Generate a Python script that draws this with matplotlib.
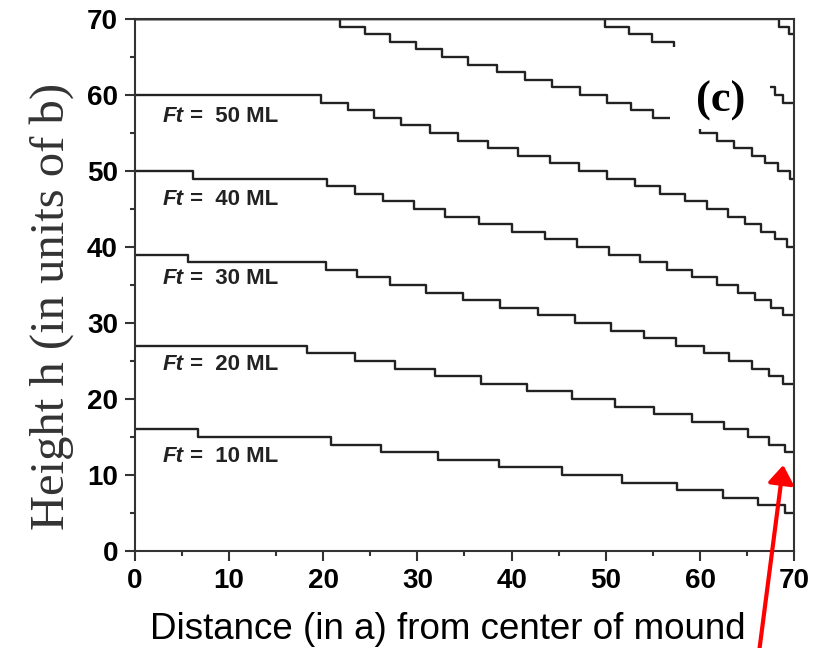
import matplotlib
matplotlib.use("Agg")
import numpy as np
import matplotlib.pyplot as plt
from matplotlib.ticker import MultipleLocator
from matplotlib.patches import Rectangle

plt.rcParams["font.family"] = ["Liberation Sans", "DejaVu Sans"]

# step profiles: x where the height drops by one layer, and the heights
a_edges = [6.75, 20.8, 26.1, 32.2, 38.7, 45.3, 51.7, 57.5, 62.4, 66.1, 69.0]
a_levels = [16, 15, 14, 13, 12, 11, 10, 9, 8, 7, 6, 5]
b_edges = [18.25, 23.4, 27.6, 31.9, 36.7, 41.6, 46.4, 51.0, 55.1, 59.1, 62.5, 65.1, 67.3, 69.0]
b_levels = [27, 26, 25, 24, 23, 22, 21, 20, 19, 18, 17, 16, 15, 14, 13]
c_edges = [5.7, 20.3, 23.6, 27.1, 30.9, 34.8, 38.8, 42.8, 46.7, 50.6, 54.0, 57.4, 60.4,
           63.1, 65.5, 67.3, 68.8]
c_levels = [39, 38, 37, 36, 35, 34, 33, 32, 31, 30, 29, 28, 27, 26, 25, 24, 23, 22]
d_edges = [6.2, 20.4, 23.4, 26.4, 29.6, 32.9, 36.5, 40.0, 43.5, 46.9, 50.3, 53.6, 56.5,
           59.1, 61.8, 64.0, 65.8, 67.5, 68.8]
d_levels = [50, 49, 48, 47, 46, 45, 44, 43, 42, 41, 40, 39, 38, 37, 36, 35, 34, 33, 32, 31]
e_edges = [19.8, 22.6, 25.4, 28.3, 31.3, 34.3, 37.5, 40.7, 44.1, 47.1, 50.1, 53.1, 55.7,
           58.4, 60.7, 63.0, 64.8, 66.5, 67.9, 69.2]
e_levels = [60, 59, 58, 57, 56, 55, 54, 53, 52, 51, 50, 49, 48, 47, 46, 45, 44, 43, 42, 41, 40]
f_edges = [21.8, 24.4, 27.1, 29.9, 32.6, 35.4, 38.5, 41.4, 44.3, 47.3, 50.1, 52.7, 55.0,
           57.6, 60.0, 61.8, 63.6, 65.5, 66.9, 68.3, 69.5]
f_levels = [70, 69, 68, 67, 66, 65, 64, 63, 62, 61, 60, 59, 58, 57, 56, 55, 54, 53, 52, 51, 50, 49]
g_edges = [49.9, 52.5, 54.9, 57.2, 59.5, 61.6, 63.5, 65.2, 66.6, 67.9, 68.8]
g_levels = [70, 69, 68, 67, 66, 65, 64, 63, 62, 61, 60, 59]
h_edges = [68.4, 69.4]
h_levels = [70, 69, 68]

curves = [(a_edges, a_levels), (b_edges, b_levels), (c_edges, c_levels),
          (d_edges, d_levels), (e_edges, e_levels), (f_edges, f_levels),
          (g_edges, g_levels), (h_edges, h_levels)]

label_ft = [10, 20, 30, 40, 50]
label_y = [12.4, 24.6, 35.9, 46.3, 57.2]

fig = plt.figure(figsize=(8.21, 6.48), dpi=100)
ax = fig.add_axes([0.164, 0.1497, 0.8035, 0.821])

for edges, levels in curves:
    x = np.concatenate([[0], edges, [70]])
    y = np.append(levels, levels[-1])
    ax.plot(x, y, drawstyle="steps-post", color="#222222", lw=1.7, zorder=2)

for ft, ly in zip(label_ft, label_y):
    t1 = ax.text(3.0, ly, "Ft", fontsize=16, fontweight="bold", fontstyle="italic",
                 va="center", ha="left", color="#222222")
    ax.annotate(f" =  {ft} ML", xy=(1, 0.5), xycoords=t1, fontsize=16, fontweight="bold",
                va="center", ha="left", color="#222222")

# white patch behind the panel letter
ax.add_patch(Rectangle((56.8, 55.5), 10.6, 10.8, facecolor="white", edgecolor="none", zorder=3))
ax.text(62.2, 59.3, "(c)", family="Liberation Serif", fontweight="bold", fontsize=32,
        ha="center", va="center", zorder=4)

ax.set_xlim(0, 70)
ax.set_ylim(0, 70)
ax.xaxis.set_major_locator(MultipleLocator(10))
ax.xaxis.set_minor_locator(MultipleLocator(5))
ax.yaxis.set_major_locator(MultipleLocator(10))
ax.yaxis.set_minor_locator(MultipleLocator(5))
ax.tick_params(which="major", direction="out", length=7, width=1.5, color="#333333",
               labelsize=20, pad=5)
ax.tick_params(which="minor", direction="out", length=3.5, width=1.5, color="#333333")
for lab in ax.get_xticklabels() + ax.get_yticklabels():
    lab.set_fontweight("bold")
for sp in ax.spines.values():
    sp.set_linewidth(1.5)
    sp.set_color("#333333")

ax.set_xlabel("Distance (in a) from center of mound", fontsize=26.5)
ax.xaxis.set_label_coords(0.475, -0.115)
ax.set_ylabel("Height h (in units of b)", family="Liberation Serif", fontsize=35, color="#333333")
ax.yaxis.set_label_coords(-0.092, 0.459)

# red arrow pointing at the Ft = 20 ML profile end
ax.annotate("", xy=(783.3, 183), xycoords="figure pixels",
            xytext=(757, -20), textcoords="figure pixels", annotation_clip=False,
            arrowprops=dict(arrowstyle="-|>,head_length=0.5,head_width=0.35",
                            color="red", lw=3, mutation_scale=22, shrinkA=0, shrinkB=0))

fig.savefig("out.png", dpi=100)
